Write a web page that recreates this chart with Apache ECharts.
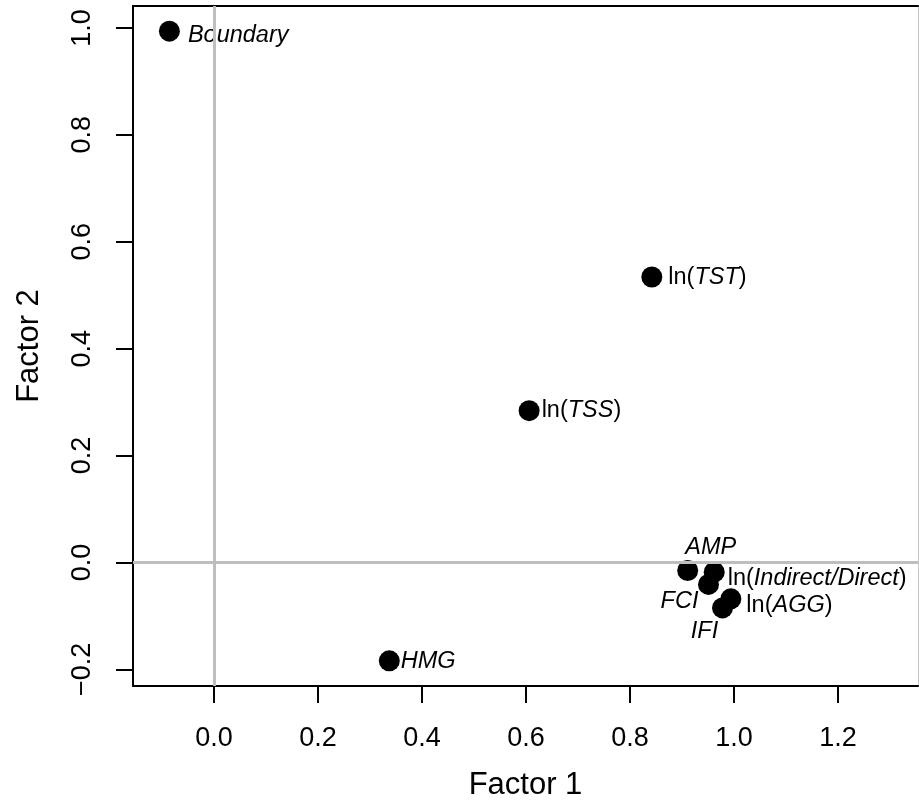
<!DOCTYPE html>
<html>
<head>
<meta charset="utf-8">
<script src="https://cdn.jsdelivr.net/npm/echarts@6/dist/echarts.min.js"></script>
<style>
  html, body { margin: 0; padding: 0; background: #fff; }
  #main { width: 919px; height: 806px; }
</style>
</head>
<body>
<div id="main"></div>
<script>
// factor loadings
var names = ["Boundary", "ln(TST)", "ln(TSS)", "HMG", "AMP", "ln(Indirect/Direct)", "FCI", "ln(AGG)", "IFI"];
var factor1 = [-0.086, 0.842, 0.606, 0.337, 0.911, 0.962, 0.951, 0.994, 0.978];
var factor2 = [0.994, 0.534, 0.284, -0.184, -0.015, -0.018, -0.041, -0.068, -0.085];
// rich text versions of the names (italic parts)
var labelText = [
    "{i|Boundary}",
    "{n|ln(}{i|TST}{n|)}",
    "{n|ln(}{i|TSS}{n|)}",
    "{i|HMG}",
    "{i|AMP}",
    "{n|ln(}{i|Indirect/Direct}{n|)}",
    "{i|FCI}",
    "{n|ln(}{i|AGG}{n|)}",
    "{i|IFI}"
];
var xTicks = [0, 0.2, 0.4, 0.6, 0.8, 1.0, 1.2];
var yTicks = [-0.2, 0, 0.2, 0.4, 0.6, 0.8, 1.0];

// where each label sits relative to its point
var labelPlace = [
    { position: "right", distance: 8, offset: [0, 4] },
    { position: "right", distance: 6, offset: [0, 0] },
    { position: "right", distance: 2, offset: [0, 0] },
    { position: "right", distance: 1, offset: [0, 1] },
    { position: "inside", distance: 0, offset: [23, -23] },
    { position: "right", distance: 3, offset: [0, 6] },
    { position: "inside", distance: 0, offset: [-29, 17] },
    { position: "right", distance: 5, offset: [0, 7] },
    { position: "inside", distance: 0, offset: [-18, 24] }
];

var FONT = "'Liberation Sans', Arial, Helvetica, sans-serif";
var XMIN = -0.156, XMAX = 1.354, YMIN = -0.231, YMAX = 1.041;

function tickFmt(v) {
    var s = Math.abs(v).toFixed(1);
    return v < -1e-9 ? "\u2212" + s : s;
}

var points = names.map(function (n, i) {
    var p = labelPlace[i];
    return {
        name: n,
        value: [factor1[i], factor2[i]],
        label: {
            show: true,
            position: p.position,
            distance: p.distance,
            offset: p.offset,
            formatter: labelText[i]
        }
    };
});

var labelRich = {
    n: { fontFamily: FONT, fontSize: 23.5, color: "#000", fontStyle: "normal" },
    i: { fontFamily: FONT, fontSize: 23.5, color: "#000", fontStyle: "italic" }
};

var myChart = echarts.init(document.getElementById("main"), null, { renderer: "canvas" });

var option = {
    animation: false,
    backgroundColor: "#fff",
    textStyle: { fontFamily: FONT },
    grid: { left: 133, right: 1, top: 6, bottom: 119, show: false },
    xAxis: [{
        type: "value",
        position: "bottom",
        min: XMIN,
        max: XMAX,
        name: "Factor 1",
        nameLocation: "middle",
        nameGap: 84,
        nameTextStyle: { fontFamily: FONT, fontSize: 31, color: "#000" },
        axisLine: { show: true, onZero: false, lineStyle: { color: "#000", width: 2 } },
        axisTick: { show: true, length: 17, customValues: xTicks, lineStyle: { color: "#000", width: 2 } },
        axisLabel: {
            show: true, customValues: xTicks, formatter: tickFmt,
            margin: 39, fontFamily: FONT, fontSize: 27, color: "#000"
        },
        splitLine: { show: false }
    }, {
        type: "value",
        position: "top",
        min: XMIN,
        max: XMAX,
        axisLine: { show: true, onZero: false, lineStyle: { color: "#000", width: 2 } },
        axisTick: { show: false },
        axisLabel: { show: false },
        splitLine: { show: false }
    }],
    yAxis: [{
        type: "value",
        position: "left",
        min: YMIN,
        max: YMAX,
        name: "Factor 2",
        nameLocation: "middle",
        nameGap: 88,
        nameRotate: 90,
        nameTextStyle: { fontFamily: FONT, fontSize: 31, color: "#000" },
        axisLine: { show: true, onZero: false, lineStyle: { color: "#000", width: 2 } },
        axisTick: { show: true, length: 17, customValues: yTicks, lineStyle: { color: "#000", width: 2 } },
        axisLabel: {
            show: true, customValues: yTicks, formatter: tickFmt, rotate: 90,
            margin: 37, fontFamily: FONT, fontSize: 27, color: "#000"
        },
        splitLine: { show: false }
    }, {
        type: "value",
        position: "right",
        min: YMIN,
        max: YMAX,
        axisLine: { show: true, onZero: false, lineStyle: { color: "#c8c8c8", width: 1 } },
        axisTick: { show: false },
        axisLabel: { show: false },
        splitLine: { show: false }
    }],
    series: [{
        type: "scatter",
        xAxisIndex: 0,
        yAxisIndex: 0,
        symbol: "circle",
        symbolSize: 21,
        itemStyle: { color: "#000", opacity: 1 },
        label: { rich: labelRich, color: "#000" },
        data: points,
        markLine: {
            silent: true,
            symbol: "none",
            animation: false,
            label: { show: false },
            lineStyle: { color: "#bebebe", width: 3, type: "solid" },
            emphasis: { disabled: true },
            data: [{ xAxis: 0 }, { yAxis: 0 }]
        }
    }]
};

myChart.setOption(option);
</script>
</body>
</html>
